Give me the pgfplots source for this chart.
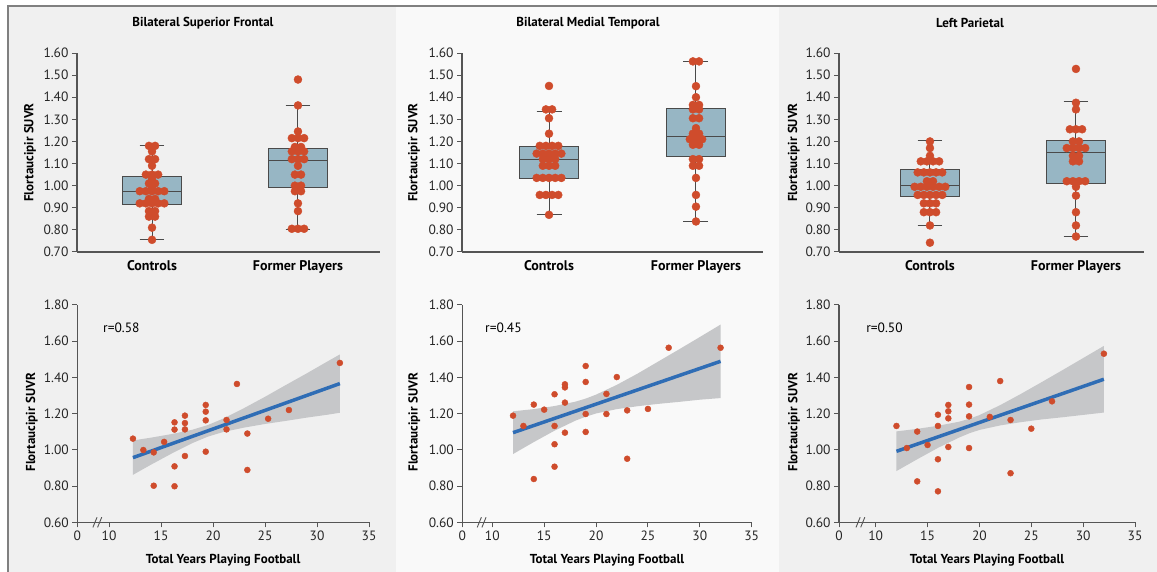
\documentclass[border=0pt]{standalone}
\usepackage{fontspec}
\setmainfont{PT Sans}
\usepackage{pgfplots}
\pgfplotsset{compat=1.18}
\usepackage{pgfplotstable}
\usepgfplotslibrary{statistics}

\definecolor{panelA}{HTML}{F0F0F0}
\definecolor{panelB}{HTML}{F9F9F9}
\definecolor{frame}{HTML}{808080}
\definecolor{axisgray}{HTML}{555555}
\definecolor{dotred}{HTML}{CF4C2C}
\definecolor{boxfill}{HTML}{97B6C4}
\definecolor{boxedge}{HTML}{4A4A4A}
\definecolor{fitblue}{HTML}{2F6DB5}
\definecolor{band}{HTML}{C6C7C9}

% swarm points: group, offset (in dot spacings), SUVR
\pgfplotstableread[row sep=\\]{
g dx v\\
1 -0.5 1.18\\ 1 0.5 1.18\\ 1 0 1.155\\ 1 -0.5 1.12\\ 1 0.5 1.12\\ 1 0 1.09\\
1 -1 1.05\\ 1 0 1.05\\ 1 1 1.05\\ 1 0 1.03\\ 1 -0.5 1.01\\ 1 0.5 1.01\\ 1 0 0.995\\
1 -2 0.975\\ 1 -1 0.975\\ 1 0 0.975\\ 1 1 0.975\\ 1 2 0.975\\ 1 -0.5 0.94\\ 1 0.5 0.94\\
1 -2 0.92\\ 1 -1 0.92\\ 1 0 0.92\\ 1 1 0.92\\ 1 2 0.92\\ 1 -0.5 0.885\\ 1 0.5 0.885\\
1 -0.5 0.86\\ 1 0.5 0.86\\ 1 0 0.81\\ 1 0 0.755\\
2 0 1.48\\ 2 0 1.363\\ 2 0 1.245\\ 2 -1 1.215\\ 2 0 1.215\\ 2 1 1.215\\ 2 -0.5 1.175\\ 2 0.5 1.175\\
2 -1 1.155\\ 2 0 1.155\\ 2 1 1.155\\ 2 -1 1.12\\ 2 0 1.12\\ 2 1 1.12\\ 2 0 1.09\\
2 -0.5 1.05\\ 2 0.5 1.05\\ 2 -0.5 1.00\\ 2 0.5 1.00\\ 2 -0.5 0.975\\ 2 0.5 0.975\\
2 0 0.92\\ 2 0 0.885\\ 2 -1 0.805\\ 2 0 0.805\\ 2 1 0.805\\
}\swarmA

\pgfplotstableread[row sep=\\]{
g dx v\\
1 0 1.451\\ 1 -0.5 1.345\\ 1 0.5 1.345\\ 1 0 1.305\\ 1 0 1.235\\
1 -1.5 1.18\\ 1 -0.5 1.18\\ 1 0.5 1.18\\ 1 1.5 1.18\\
1 -2 1.145\\ 1 -1 1.145\\ 1 0 1.145\\ 1 1 1.145\\ 1 2 1.145\\
1 -1 1.12\\ 1 0 1.12\\ 1 1 1.12\\ 1 -1 1.09\\ 1 0 1.09\\ 1 1 1.09\\
1 -2 1.035\\ 1 -1 1.035\\ 1 0 1.035\\ 1 1 1.035\\ 1 2 1.035\\
1 -1.5 0.958\\ 1 -0.5 0.958\\ 1 0.5 0.958\\ 1 1.5 0.958\\ 1 0 0.868\\
2 -0.5 1.562\\ 2 0.5 1.562\\ 2 0 1.45\\ 2 0 1.40\\ 2 -0.5 1.365\\ 2 0.5 1.365\\
2 -0.5 1.345\\ 2 0.5 1.345\\ 2 -0.5 1.305\\ 2 0.5 1.305\\ 2 0 1.26\\ 2 -0.5 1.235\\ 2 0.5 1.235\\
2 -1 1.21\\ 2 0 1.21\\ 2 1 1.21\\ 2 -0.5 1.185\\ 2 0.5 1.185\\ 2 -0.5 1.12\\ 2 0.5 1.12\\
2 -0.5 1.09\\ 2 0.5 1.09\\ 2 0 1.035\\ 2 0 0.958\\ 2 0 0.905\\ 2 0 0.838\\
}\swarmB

\pgfplotstableread[row sep=\\]{
g dx v\\
1 0 1.20\\ 1 0 1.17\\ 1 0 1.135\\ 1 -1.5 1.11\\ 1 -0.5 1.11\\ 1 0.5 1.11\\ 1 1.5 1.11\\
1 -2 1.06\\ 1 -1 1.06\\ 1 0 1.06\\ 1 1 1.06\\ 1 2 1.06\\ 1 -0.5 1.02\\ 1 0.5 1.02\\
1 -2.5 0.995\\ 1 -1.5 0.995\\ 1 -0.5 0.995\\ 1 0.5 0.995\\ 1 1.5 0.995\\ 1 2.5 0.995\\
1 -2 0.958\\ 1 -1 0.958\\ 1 0 0.958\\ 1 1 0.958\\ 1 2 0.958\\
1 -1 0.92\\ 1 0 0.92\\ 1 1 0.92\\ 1 -1 0.88\\ 1 0 0.88\\ 1 1 0.88\\ 1 0 0.82\\ 1 0 0.742\\
2 0 1.528\\ 2 0 1.375\\ 2 0 1.345\\ 2 -1 1.255\\ 2 0 1.255\\ 2 1 1.255\\ 2 -0.5 1.20\\ 2 0.5 1.20\\
2 -1.5 1.17\\ 2 -0.5 1.17\\ 2 0.5 1.17\\ 2 1.5 1.17\\ 2 -0.5 1.135\\ 2 0.5 1.135\\
2 -0.5 1.11\\ 2 0.5 1.11\\ 2 -1.5 1.02\\ 2 -0.5 1.02\\ 2 0.5 1.02\\ 2 1.5 1.02\\
2 0 0.995\\ 2 0 0.955\\ 2 0 0.88\\ 2 0 0.82\\ 2 0 0.77\\
}\swarmC

\pgfplotsset{
  base/.style={
    scale only axis, anchor=south west, clip=false,
    axis lines*=left,
    axis line style={axisgray, line width=1.1pt},
    tick style={axisgray, line width=1pt},
    tick align=outside, major tick length=5pt,
    tick label style={font=\fontsize{13.5}{15}\selectfont, text=black!85},
    yticklabel style={/pgf/number format/.cd, fixed, fixed zerofill, precision=2, assume math mode=true},
    ylabel={Flortaucipir SUVR},
  },
  ylab/.style 2 args={ylabel style={at={(axis description cs:#1,#2)}, anchor=center,
    font=\bfseries\fontsize{13}{15}\selectfont}},
  boxax/.style={
    base, height=199pt, ymin=0.7, ymax=1.6,
    boxplot/draw direction=y,
    ytick={0.7,0.8,0.9,1.0,1.1,1.2,1.3,1.4,1.5,1.6},
    xtick={1,2}, xticklabels={Controls,Former Players},
    xtick style={draw=none},
    xticklabel style={font=\bfseries\fontsize{14}{16}\selectfont, text=black},
  },
  scax/.style={
    base, height=217.3pt, ymin=0.6, ymax=1.8, xmax=35,
    ytick={0.6,0.8,1.0,1.2,1.4,1.6,1.8},
    xticklabels={0,10,15,20,25,30,35},
    xlabel={Total Years Playing Football},
    xlabel style={at={(axis description cs:0.5,-0.175)}, anchor=center,
      font=\bfseries\fontsize{13}{15}\selectfont},
  },
  bx/.style={draw=boxedge, fill=boxfill, line width=1pt},
  swarm/.style={only marks, mark=*, mark size=4pt, color=dotred},
  pts/.style={only marks, mark=*, mark size=3pt, color=dotred},
  fit/.style={fitblue, line width=3.5pt},
  cb/.style={fill=band, draw=none},
}

\begin{document}
\begin{tikzpicture}
\useasboundingbox (0pt,0pt) rectangle (1157pt,572pt);
\fill[white] (0pt,0pt) rectangle (1157pt,572pt);
\fill[panelA] (9pt,0pt) rectangle (396pt,565pt);
\fill[panelB] (396pt,0pt) rectangle (779pt,565pt);
\fill[panelA] (779pt,0pt) rectangle (1157pt,565pt);
\draw[frame, line width=2pt] (8pt,0pt) -- (8pt,566pt) -- (1157pt,566pt);

\node[font=\bfseries\fontsize{13}{15}\selectfont] at (203pt,549pt) {Bilateral Superior Frontal};
\node[font=\bfseries\fontsize{13}{15}\selectfont] at (588pt,549pt) {Bilateral Medial Temporal};
\node[font=\bfseries\fontsize{13}{15}\selectfont] at (970pt,549pt) {Left Parietal};

% ---------- top row: box plots ----------
\begin{axis}[boxax, at={(77pt,320pt)}, width=303pt, xmin=0.486, xmax=2.562, ylab={-0.155}{0.5}]
\addplot[bx, boxplot prepared={lower whisker=0.756, lower quartile=0.917, median=0.974,
  upper quartile=1.041, upper whisker=1.181, draw position=1, box extend=0.4, whisker extend=0.17}] coordinates {};
\addplot[bx, boxplot prepared={lower whisker=0.801, lower quartile=0.991, median=1.113,
  upper quartile=1.169, upper whisker=1.363, draw position=2, box extend=0.4, whisker extend=0.17}] coordinates {};
\addplot[swarm] table[x expr=\thisrow{g}+0.042*\thisrow{dx}, y=v] {\swarmA};
\end{axis}

\begin{axis}[boxax, at={(462pt,320pt)}, width=301pt, xmin=0.408, xmax=2.456, ylab={-0.159}{0.5}]
\addplot[bx, boxplot prepared={lower whisker=0.868, lower quartile=1.034, median=1.118,
  upper quartile=1.179, upper whisker=1.336, draw position=1, box extend=0.4, whisker extend=0.17}] coordinates {};
\addplot[bx, boxplot prepared={lower whisker=0.840, lower quartile=1.130, median=1.223,
  upper quartile=1.349, upper whisker=1.562, draw position=2, box extend=0.4, whisker extend=0.17}] coordinates {};
\addplot[swarm] table[x expr=\thisrow{g}+0.042*\thisrow{dx}, y=v] {\swarmB};
\end{axis}

\begin{axis}[boxax, at={(839pt,320pt)}, width=305pt, xmin=0.377, xmax=2.466, ylab={-0.148}{0.5}]
\addplot[bx, boxplot prepared={lower whisker=0.822, lower quartile=0.949, median=1.000,
  upper quartile=1.073, upper whisker=1.202, draw position=1, box extend=0.4, whisker extend=0.17}] coordinates {};
\addplot[bx, boxplot prepared={lower whisker=0.771, lower quartile=1.012, median=1.148,
  upper quartile=1.205, upper whisker=1.379, draw position=2, box extend=0.4, whisker extend=0.17}] coordinates {};
\addplot[swarm] table[x expr=\thisrow{g}+0.042*\thisrow{dx}, y=v] {\swarmC};
\end{axis}

% ---------- bottom row: scatter with fit and 95% band ----------
\begin{axis}[scax, at={(77.3pt,49.7pt)}, width=291.7pt, xmin=6.95, xtick={6.95,10,15,20,25,30,35}, ylab={-0.156}{0.46}]
\addplot[cb] table[row sep=\\] {x y\\
12.3 1.052\\ 14 1.067\\ 16 1.087\\ 18 1.111\\ 19.5 1.137\\ 21 1.173\\ 23 1.231\\ 25 1.293\\
27 1.358\\ 29 1.422\\ 31 1.488\\ 32.2 1.527\\ 32.2 1.205\\ 31 1.194\\ 29 1.178\\ 27 1.160\\
25 1.143\\ 23 1.123\\ 21 1.099\\ 19.5 1.073\\ 18 1.037\\ 16 0.979\\ 14 0.917\\ 12.3 0.862\\};
\addplot[fit] coordinates {(12.3,0.957) (32.2,1.366)};
\addplot[pts] table[row sep=\\] {x y\\
12.3 1.062\\ 13.3 0.999\\ 14.3 0.986\\ 14.3 0.802\\ 15.3 1.044\\ 16.3 1.152\\ 16.3 1.112\\
16.3 0.909\\ 16.3 0.799\\ 17.3 1.189\\ 17.3 1.148\\ 17.3 1.113\\ 17.3 0.966\\ 19.3 1.248\\
19.3 1.211\\ 19.3 1.163\\ 19.3 0.990\\ 21.3 1.165\\ 21.3 1.113\\ 22.3 1.364\\ 23.3 1.090\\
23.3 0.889\\ 25.3 1.172\\ 27.3 1.220\\ 32.2 1.480\\};
\node[anchor=west, font=\fontsize{13.5}{15}\selectfont] at (axis cs:9.1,1.675) {r=0.58};
\draw[axisgray, line width=0.9pt] (axis cs:8.45,0.572) -- (axis cs:8.85,0.628);
\draw[axisgray, line width=0.9pt] (axis cs:8.9,0.572) -- (axis cs:9.3,0.628);
\end{axis}

\begin{axis}[scax, at={(462.3pt,49.7pt)}, width=289.4pt, xmin=7.11, xtick={7.11,10,15,20,25,30,35}, ylab={-0.166}{0.46}]
\addplot[cb] table[row sep=\\] {x y\\
12 1.213\\ 14 1.225\\ 16 1.242\\ 18 1.266\\ 19 1.283\\ 20 1.305\\ 22 1.359\\ 24 1.421\\
26 1.488\\ 28 1.555\\ 30 1.623\\ 32 1.692\\ 32 1.286\\ 30 1.277\\ 28 1.265\\ 26 1.254\\
24 1.241\\ 22 1.225\\ 20 1.201\\ 19 1.183\\ 18 1.161\\ 16 1.106\\ 14 1.043\\ 12 0.977\\};
\addplot[fit] coordinates {(12,1.095) (32,1.489)};
\addplot[pts] table[row sep=\\] {x y\\
12 1.189\\ 13 1.132\\ 14 1.250\\ 14 0.839\\ 15 1.222\\ 16 1.307\\ 16 1.132\\ 16 1.031\\
16 0.907\\ 17 1.362\\ 17 1.345\\ 17 1.261\\ 17 1.095\\ 19 1.463\\ 19 1.375\\ 19 1.198\\
19 1.099\\ 21 1.309\\ 21 1.198\\ 22 1.402\\ 23 1.218\\ 23 0.951\\ 25 1.226\\ 27 1.564\\
32 1.564\\};
\node[anchor=west, font=\fontsize{13.5}{15}\selectfont] at (axis cs:8.98,1.675) {r=0.45};
\draw[axisgray, line width=0.9pt] (axis cs:8.55,0.572) -- (axis cs:8.95,0.628);
\draw[axisgray, line width=0.9pt] (axis cs:9.0,0.572) -- (axis cs:9.4,0.628);
\end{axis}

\begin{axis}[scax, at={(839pt,49.7pt)}, width=296pt, xmin=6.46, xtick={6.46,10,15,20,25,30,35}, ylab={-0.152}{0.46}]
\addplot[cb] table[row sep=\\] {x y\\
12 1.102\\ 14 1.116\\ 16 1.133\\ 18 1.155\\ 19 1.171\\ 20 1.192\\ 22 1.247\\ 24 1.309\\
26 1.374\\ 28 1.440\\ 30 1.507\\ 32 1.574\\ 32 1.206\\ 30 1.193\\ 28 1.180\\ 26 1.168\\
24 1.153\\ 22 1.135\\ 20 1.110\\ 19 1.091\\ 18 1.067\\ 16 1.011\\ 14 0.948\\ 12 0.883\\};
\addplot[fit] coordinates {(12,0.992) (32,1.390)};
\addplot[pts] table[row sep=\\] {x y\\
12 1.132\\ 13 1.010\\ 14 1.101\\ 14 0.826\\ 15 1.027\\ 16 1.194\\ 16 1.132\\ 16 0.948\\
16 0.771\\ 17 1.248\\ 17 1.213\\ 17 1.174\\ 17 1.016\\ 19 1.347\\ 19 1.250\\ 19 1.185\\
19 1.010\\ 21 1.182\\ 22 1.380\\ 23 1.165\\ 23 0.871\\ 25 1.117\\ 27 1.268\\ 32 1.531\\};
\node[anchor=west, font=\fontsize{13.5}{15}\selectfont] at (axis cs:8.75,1.675) {r=0.50};
\draw[axisgray, line width=0.9pt] (axis cs:8.1,0.572) -- (axis cs:8.5,0.628);
\draw[axisgray, line width=0.9pt] (axis cs:8.55,0.572) -- (axis cs:8.95,0.628);
\end{axis}
\end{tikzpicture}
\end{document}
